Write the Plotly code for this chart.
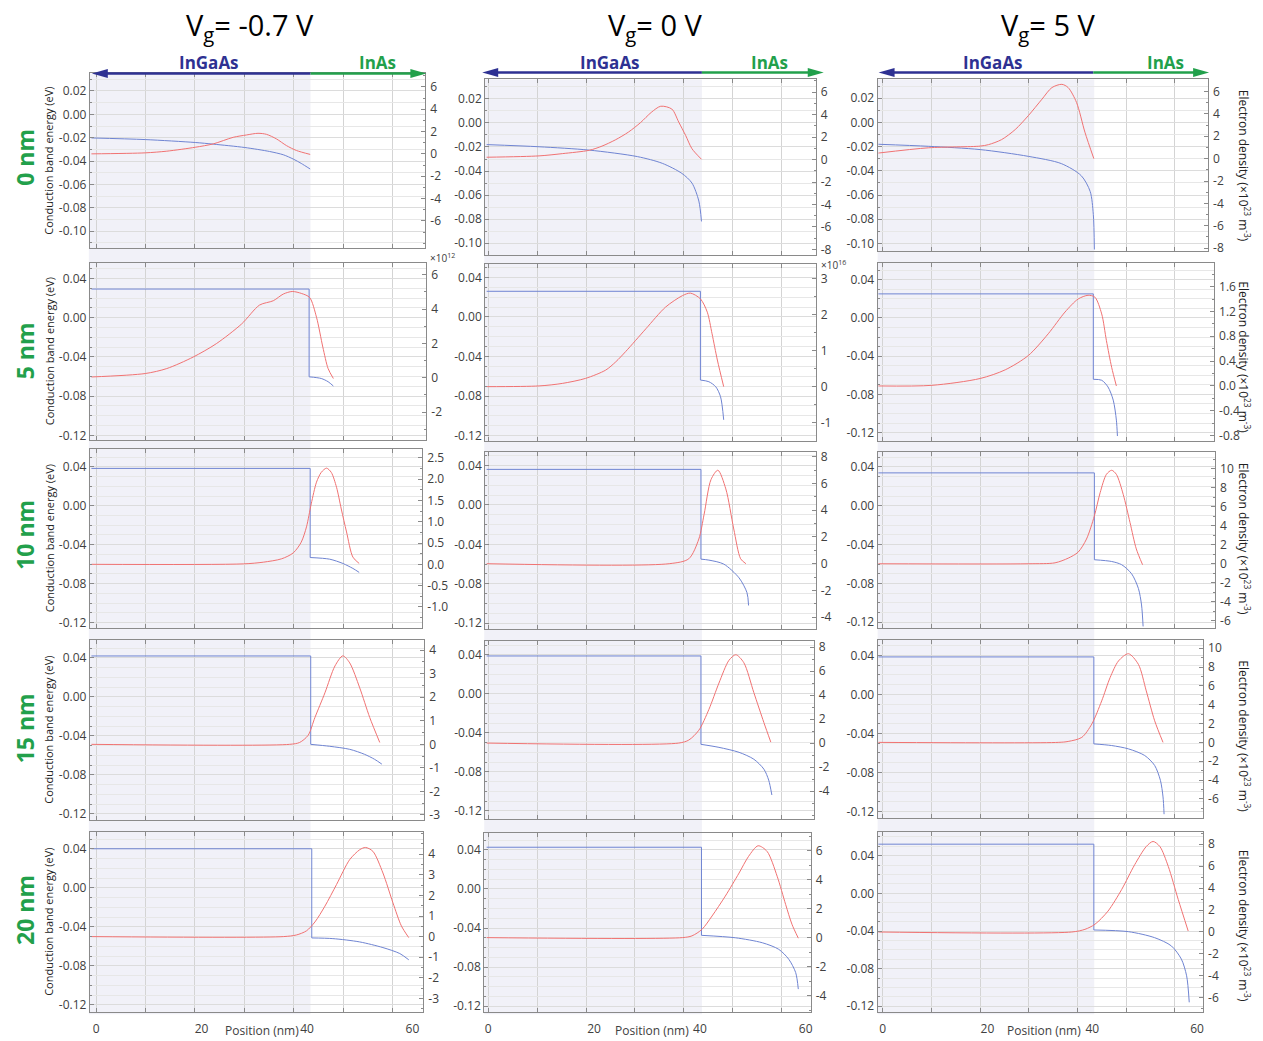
import plotly.graph_objects as go

W, H = 1263, 1041

BLUE = "#6f84d2"
RED = "#f07272"
NAVY = "#2e3192"
GREEN = "#22a04b"
AXIS = "#8a8a8a"
VGRID = "#d4d4d4"
HGRID = "#dcdcdc"
HGRID_MINOR = "#e7e7e7"
SHADE = "#f1f1f8"
TEXT = "#404040"
FONT = "Open Sans"

thickness_labels = ["0 nm", "5 nm", "10 nm", "15 nm", "20 nm"]
gate_titles = ["V<sub>g</sub>= -0.7 V", "V<sub>g</sub>= 0 V", "V<sub>g</sub>= 5 V"]
position_ticks = [0, 20, 40, 60]
energy_ticks_fine = [-0.10, -0.08, -0.06, -0.04, -0.02, 0.0, 0.02]
energy_ticks = [-0.12, -0.08, -0.04, 0.0, 0.04]

# ---------------- InAs 0 nm ----------------
cb_pos_t0_m07 = [-0.9, 9.3, 18.8, 22.2, 28.2, 32.9, 35.5, 37.4, 38.9, 40.6]
cb_ev_t0_m07 = [-0.0202, -0.0216, -0.0241, -0.0255, -0.0284, -0.0318, -0.0346, -0.0383, -0.042, -0.0468]
ne_pos_t0_m07 = [-0.9, 9.3, 13.4, 18.8, 22.2, 26.0, 28.5, 30.7, 32.3, 34.2, 36.1, 38.0, 40.6]
ne_val_t0_m07 = [0.0, 0.09, 0.24, 0.59, 0.89, 1.48, 1.69, 1.84, 1.75, 1.34, 0.74, 0.30, -0.05]
ne_ticks_t0_m07 = [-6, -4, -2, 0, 2, 4, 6]

cb_pos_t0_v0 = [-0.3, 9.6, 19.1, 28.2, 32.9, 36.6, 38.5, 39.8, 40.3]
cb_ev_t0_v0 = [-0.018, -0.0198, -0.0226, -0.028, -0.0336, -0.042, -0.050, -0.065, -0.082]
ne_pos_t0_v0 = [-0.3, 9.6, 14.0, 19.1, 21.5, 24.0, 26.5, 28.8, 30.8, 32.6, 34.7, 36.0, 37.3, 38.5, 40.3]
ne_val_t0_v0 = [0.21, 0.33, 0.53, 0.83, 1.2, 1.75, 2.45, 3.3, 4.2, 4.75, 4.5, 3.34, 2.16, 0.97, 0.03]
ne_ticks_t0_v0 = [-8, -6, -4, -2, 0, 2, 4, 6]

cb_pos_t0_v5 = [-0.8, 8.8, 18.6, 27.8, 34.1, 37.9, 39.6, 40.2, 40.4]
cb_ev_t0_v5 = [-0.018, -0.0197, -0.0224, -0.028, -0.034, -0.044, -0.057, -0.076, -0.105]
ne_pos_t0_v5 = [-0.8, 8.8, 18.6, 20.2, 22.7, 25.3, 27.8, 30.4, 32.3, 34.2, 35.4, 37.0, 38.6, 40.3]
ne_val_t0_v5 = [0.5, 0.97, 1.12, 1.25, 1.7, 2.6, 3.84, 5.31, 6.35, 6.64, 6.35, 5.02, 2.36, 0.0]
ne_ticks_t0_v5 = [-8, -6, -4, -2, 0, 2, 4, 6]

# ---------------- InAs 5 nm ----------------
cb_pos_t5_m07 = [-0.9, 40.4, 40.4, 42.7, 44.0, 45.0]
cb_ev_t5_m07 = [0.0293, 0.0293, -0.0603, -0.062, -0.0653, -0.0697]
ne_pos_t5_m07 = [-0.9, 9.3, 13.4, 18.4, 22.8, 27.6, 31.0, 33.6, 35.5, 37.2, 39.0, 40.5, 41.8, 43.0, 44.0, 45.0]
ne_val_t5_m07 = [0.05, 0.25, 0.54, 1.21, 1.99, 3.14, 4.24, 4.49, 4.88, 5.03, 4.91, 4.68, 3.53, 1.79, 0.54, -0.04]
ne_ticks_t5_m07 = [-2, 0, 2, 4, 6]

cb_pos_t5_v0 = [-0.3, 40.1, 40.1, 41.7, 43.0, 43.9, 44.5]
cb_ev_t5_v0 = [0.0259, 0.0259, -0.0638, -0.0655, -0.0706, -0.0806, -0.104]
ne_pos_t5_v0 = [-0.3, 9.6, 14.0, 18.4, 22.2, 24.1, 26.0, 29.8, 33.5, 36.7, 38.2, 40.1, 41.4, 42.3, 43.3, 44.5]
ne_val_t5_v0 = [0.0, 0.02, 0.09, 0.23, 0.46, 0.69, 0.98, 1.61, 2.21, 2.53, 2.6, 2.44, 2.07, 1.47, 0.74, 0.0]
ne_ticks_t5_v0 = [-1, 0, 1, 2, 3]

cb_pos_t5_v5 = [-0.8, 40.2, 40.2, 41.8, 43.0, 44.0, 44.6, 44.8]
cb_ev_t5_v5 = [0.0251, 0.0251, -0.0642, -0.0652, -0.0722, -0.086, -0.1069, -0.1235]
ne_pos_t5_v5 = [-0.8, 9.4, 18.6, 23.4, 27.8, 31.6, 34.8, 37.3, 39.2, 40.5, 41.8, 42.7, 43.7, 44.6]
ne_val_t5_v5 = [0.0, 0.01, 0.12, 0.26, 0.49, 0.84, 1.19, 1.4, 1.46, 1.43, 1.16, 0.73, 0.3, 0.0]
ne_ticks_t5_v5 = [-0.8, -0.4, 0.0, 0.4, 0.8, 1.2, 1.6]

# ---------------- InAs 10 nm ----------------
cb_pos_t10_m07 = [-0.9, 40.6, 40.6, 44.3, 46.8, 48.7, 49.9]
cb_ev_t10_m07 = [0.0384, 0.0384, -0.0532, -0.0549, -0.0593, -0.0644, -0.0685]
ne_pos_t10_m07 = [-0.9, 27.9, 31.7, 35.2, 37.4, 38.9, 39.9, 40.8, 41.8, 42.7, 43.7, 44.6, 45.6, 46.5, 47.5, 48.7, 49.9]
ne_val_t10_m07 = [0.0, 0.01, 0.05, 0.13, 0.27, 0.52, 0.88, 1.42, 1.93, 2.16, 2.26, 2.16, 1.81, 1.3, 0.76, 0.17, 0.02]
ne_ticks_t10_m07 = [-1.0, -0.5, 0.0, 0.5, 1.0, 1.5, 2.0, 2.5]

cb_pos_t10_v0 = [-0.3, 40.2, 40.2, 41.7, 44.5, 47.4, 48.9, 49.2]
cb_ev_t10_v0 = [0.036, 0.036, -0.055, -0.056, -0.06, -0.074, -0.089, -0.102]
ne_pos_t10_v0 = [-0.3, 34.2, 37.9, 39.8, 40.8, 42.1, 43.4, 44.9, 46.4, 47.7, 48.7]
ne_val_t10_v0 = [0.0, 0.0, 0.37, 1.85, 3.7, 6.3, 7.0, 5.6, 2.6, 0.37, 0.0]
ne_ticks_t10_v0 = [-4, -2, 0, 2, 4, 6, 8]

cb_pos_t10_v5 = [-0.8, 40.4, 40.4, 43.7, 45.6, 47.5, 48.8, 49.4, 49.7]
cb_ev_t10_v5 = [0.0339, 0.0339, -0.0556, -0.0574, -0.0607, -0.070, -0.0852, -0.1022, -0.1243]
ne_pos_t10_v5 = [-0.8, 27.8, 32.9, 35.4, 37.3, 38.9, 40.4, 41.5, 42.7, 43.7, 44.6, 45.9, 47.2, 48.4, 49.6]
ne_val_t10_v5 = [0.0, 0.0, 0.1, 0.59, 1.22, 2.6, 5.03, 7.47, 9.4, 9.83, 9.4, 7.3, 4.34, 1.56, -0.1]
ne_ticks_t10_v5 = [-6, -4, -2, 0, 2, 4, 6, 8, 10]

# ---------------- InAs 15 nm ----------------
cb_pos_t15_m07 = [-0.9, 40.7, 40.7, 44.3, 48.1, 50.9, 52.8, 54.2]
cb_ev_t15_m07 = [0.042, 0.042, -0.0487, -0.0507, -0.0538, -0.0589, -0.064, -0.069]
ne_pos_t15_m07 = [-0.9, 36.7, 38.6, 40.2, 41.5, 43.4, 45.3, 46.8, 48.1, 50.0, 51.9, 53.8]
ne_val_t15_m07 = [0.0, 0.0, 0.08, 0.38, 1.14, 2.19, 3.33, 3.76, 3.46, 2.4, 1.14, 0.08]
ne_ticks_t15_m07 = [-3, -2, -1, 0, 1, 2, 3, 4]

cb_pos_t15_v0 = [-0.3, 40.2, 40.2, 43.6, 47.4, 50.2, 52.1, 53.0, 53.6]
cb_ev_t15_v0 = [0.039, 0.039, -0.0517, -0.0548, -0.0599, -0.067, -0.0772, -0.0884, -0.1037]
ne_pos_t15_v0 = [-0.3, 36.0, 37.9, 39.8, 41.7, 43.6, 45.5, 46.8, 48.3, 50.2, 52.1, 53.4]
ne_val_t15_v0 = [0.0, 0.0, 0.25, 1.07, 2.8, 5.0, 6.9, 7.36, 6.7, 4.2, 1.7, 0.08]
ne_ticks_t15_v0 = [-4, -2, 0, 2, 4, 6, 8]

cb_pos_t15_v5 = [-0.8, 40.3, 40.3, 43.7, 46.9, 50.0, 51.9, 53.0, 53.5, 53.7]
cb_ev_t15_v5 = [0.0384, 0.0384, -0.0508, -0.0525, -0.0559, -0.0627, -0.0729, -0.0882, -0.1052, -0.1229]
ne_pos_t15_v5 = [-0.8, 33.5, 35.4, 38.0, 39.9, 41.8, 43.4, 45.0, 46.9, 48.8, 50.3, 51.9, 53.5]
ne_val_t15_v5 = [0.0, 0.0, 0.1, 0.53, 1.94, 4.41, 6.88, 8.65, 9.42, 8.29, 5.47, 2.3, 0.0]
ne_ticks_t15_v5 = [-6, -4, -2, 0, 2, 4, 6, 8, 10]

# ---------------- InAs 20 nm ----------------
cb_pos_t20_m07 = [-0.9, 40.9, 40.9, 44.9, 50.0, 54.4, 57.6, 59.3]
cb_ev_t20_m07 = [0.04, 0.04, -0.0514, -0.0521, -0.0555, -0.0613, -0.0674, -0.0738]
ne_pos_t20_m07 = [-0.9, 35.5, 38.0, 39.9, 41.5, 43.4, 45.6, 48.1, 50.0, 51.1, 52.5, 54.4, 56.3, 57.9, 59.3]
ne_val_t20_m07 = [0.0, 0.0, 0.08, 0.28, 0.71, 1.48, 2.53, 3.74, 4.22, 4.33, 4.14, 3.09, 1.64, 0.52, -0.05]
ne_ticks_t20_m07 = [-3, -2, -1, 0, 1, 2, 3, 4]

cb_pos_t20_v0 = [-0.3, 40.3, 40.3, 46.7, 51.8, 54.9, 56.8, 58.1, 58.6]
cb_ev_t20_v0 = [0.0426, 0.0426, -0.0475, -0.05, -0.0551, -0.0618, -0.072, -0.0856, -0.1025]
ne_pos_t20_v0 = [-0.3, 36.7, 38.5, 40.4, 42.3, 44.8, 47.4, 49.2, 51.0, 52.7, 54.6, 56.2, 57.4, 58.6]
ne_val_t20_v0 = [0.0, 0.0, 0.12, 0.57, 1.49, 2.86, 4.45, 5.6, 6.33, 5.94, 4.23, 2.29, 0.92, -0.04]
ne_ticks_t20_v0 = [-4, -2, 0, 2, 4, 6]

cb_pos_t20_v5 = [-0.8, 40.3, 40.3, 46.9, 51.9, 55.1, 57.0, 58.0, 58.5]
cb_ev_t20_v5 = [0.0523, 0.0523, -0.0389, -0.0407, -0.0471, -0.0559, -0.0699, -0.0876, -0.1158]
ne_pos_t20_v5 = [-0.8, 36.1, 38.6, 40.5, 43.0, 45.6, 48.1, 50.3, 51.6, 52.9, 54.5, 56.4, 58.3]
ne_val_t20_v5 = [0.0, 0.0, 0.24, 0.7, 1.9, 3.86, 6.13, 7.78, 8.24, 7.78, 5.97, 2.96, 0.09]
ne_ticks_t20_v5 = [-6, -4, -2, 0, 2, 4, 6, 8]

# ---------------- panel geometry ----------------
# horizontal calibration per column: pixel of x=0, pixels per nm, grid spacing (nm)
col_zero_px = [96.3, 489.0, 884.0]
col_px_per_nm = [5.28, 5.30, 5.25]
col_grid_step = [9.375, 9.245, 9.295]
# InGaAs shaded band per column: left, top, right, bottom (px)
shade_boxes = [(89, 71, 311, 1019), (485, 77, 703, 1019), (879, 77, 1096, 1019)]

# row, col, plot box (px), energy range, density range, density decimals, data
panels = [
    (0, 0, (90, 71, 426, 247), (-0.1145, 0.035), (-8.44, 7.2), 0,
     cb_pos_t0_m07, cb_ev_t0_m07, ne_pos_t0_m07, ne_val_t0_m07, ne_ticks_t0_m07),
    (0, 1, (486, 77, 817, 254), (-0.110, 0.0363), (-8.5, 7.14), 0,
     cb_pos_t0_v0, cb_ev_t0_v0, ne_pos_t0_v0, ne_val_t0_v0, ne_ticks_t0_v0),
    (0, 2, (879, 77, 1210, 250), (-0.1063, 0.0356), (-8.26, 7.08), 0,
     cb_pos_t0_v5, cb_ev_t0_v5, ne_pos_t0_v5, ne_val_t0_v5, ne_ticks_t0_v5),
    (1, 0, (90, 262, 427, 440), (-0.1244, 0.0559), (-3.6, 6.69), 0,
     cb_pos_t5_m07, cb_ev_t5_m07, ne_pos_t5_m07, ne_val_t5_m07, ne_ticks_t5_m07),
    (1, 1, (486, 263, 817, 441), (-0.125, 0.0535), (-1.5, 3.41), 0,
     cb_pos_t5_v0, cb_ev_t5_v0, ne_pos_t5_v0, ne_val_t5_v0, ne_ticks_t5_v0),
    (1, 2, (879, 262, 1216, 441), (-0.1283, 0.0574), (-0.88, 1.98), 1,
     cb_pos_t5_v5, cb_ev_t5_v5, ne_pos_t5_v5, ne_val_t5_v5, ne_ticks_t5_v5),
    (2, 0, (90, 449, 423, 630), (-0.1258, 0.0588), (-1.5, 2.72), 1,
     cb_pos_t10_m07, cb_ev_t10_m07, ne_pos_t10_m07, ne_val_t10_m07, ne_ticks_t10_m07),
    (2, 1, (486, 452, 817, 631), (-0.126, 0.0541), (-4.9, 8.4), 0,
     cb_pos_t10_v0, cb_ev_t10_v0, ne_pos_t10_v0, ne_val_t10_v0, ne_ticks_t10_v0),
    (2, 2, (879, 452, 1217, 630), (-0.1261, 0.0559), (-6.77, 11.8), 0,
     cb_pos_t10_v5, cb_ev_t10_v5, ne_pos_t10_v5, ne_val_t10_v5, ne_ticks_t10_v5),
    (3, 0, (90, 642, 425, 823), (-0.126, 0.0583), (-3.2, 4.43), 0,
     cb_pos_t15_m07, cb_ev_t15_m07, ne_pos_t15_m07, ne_val_t15_m07, ne_ticks_t15_m07),
    (3, 1, (486, 643, 815, 822), (-0.128, 0.0543), (-6.3, 8.5), 0,
     cb_pos_t15_v0, cb_ev_t15_v0, ne_pos_t15_v0, ne_val_t15_v0, ne_ticks_t15_v0),
    (3, 2, (879, 642, 1205, 821), (-0.1265, 0.0557), (-8.0, 10.87), 0,
     cb_pos_t15_v5, cb_ev_t15_v5, ne_pos_t15_v5, ne_val_t15_v5, ne_ticks_t15_v5),
    (4, 0, (90, 835, 424, 1017), (-0.1275, 0.0576), (-3.67, 5.1), 0,
     cb_pos_t20_m07, cb_ev_t20_m07, ne_pos_t20_m07, ne_val_t20_m07, ne_ticks_t20_m07),
    (4, 1, (485, 836, 812, 1017), (-0.1261, 0.0576), (-5.14, 7.24), 0,
     cb_pos_t20_v0, cb_ev_t20_v0, ne_pos_t20_v0, ne_val_t20_v0, ne_ticks_t20_v0),
    (4, 2, (879, 835, 1205, 1017), (-0.1263, 0.0657), (-7.3, 9.14), 0,
     cb_pos_t20_v5, cb_ev_t20_v5, ne_pos_t20_v5, ne_val_t20_v5, ne_ticks_t20_v5),
]

# label anchor positions (px)
row_label_y = [155, 350, 536, 731, 914]
density_title_y = [164, 357, 540, 739, 930]
title_x = [250, 657, 1050]
position_title_x = [262, 653, 1046]
# arrow geometry per column: y, left tip, material boundary, right tip
arrow_geom = [(71, 92, 311, 427), (70, 483, 703, 825), (70, 880, 1095, 1211)]
ingaas_label_x = [209, 611, 995]
inas_label_x = [378, 771, 1167]


def px(x):
    return x / W


def py(y):
    return 1 - y / H


def axname(kind, n):
    return f"{kind}axis" if n == 1 else f"{kind}axis{n}"


def axref(kind, n):
    return kind if n == 1 else f"{kind}{n}"


fig = go.Figure()
layout = dict(
    width=W, height=H, autosize=False,
    margin=dict(l=0, r=0, t=0, b=0),
    paper_bgcolor="white", plot_bgcolor="rgba(0,0,0,0)",
    showlegend=False,
    font=dict(family=FONT, color=TEXT, size=12),
)

for k, (r, c, box, erange, nrange, ndec, cbx, cby, nex, ney, nticks) in enumerate(panels):
    xi, yl, yr = k + 1, 2 * k + 1, 2 * k + 2
    L, T, R, B = box
    x0, s = col_zero_px[c], col_px_per_nm[c]

    layout[axname("x", xi)] = dict(
        domain=[px(L), px(R)], anchor=axref("y", yl),
        range=[(L - x0) / s, (R - x0) / s],
        showline=True, linecolor=AXIS, linewidth=1, mirror="ticks",
        tickmode="array", tickvals=position_ticks,
        ticktext=[str(v) for v in position_ticks],
        ticks="", showticklabels=(r == 4), showgrid=False, zeroline=False,
        ticklabelstandoff=5,
        tickfont=dict(size=12, color=TEXT),
        minor=dict(tickmode="linear", tick0=0, dtick=col_grid_step[c], ticks="inside",
                   ticklen=4, tickcolor=AXIS, showgrid=True, gridcolor=VGRID, gridwidth=1),
    )
    eticks = energy_ticks_fine if r == 0 else energy_ticks
    layout[axname("y", yl)] = dict(
        domain=[py(B), py(T)], anchor=axref("x", xi), range=list(erange),
        showline=True, linecolor=AXIS, linewidth=1, mirror=True,
        tickmode="array", tickvals=eticks, ticktext=[f"{v:.2f}" for v in eticks],
        ticks="inside", ticklen=4, tickcolor=AXIS,
        showgrid=True, gridcolor=HGRID, gridwidth=1, zeroline=False,
        tickfont=dict(size=12, color=TEXT),
        minor=dict(tickmode="linear", tick0=0, dtick=0.01, ticks="inside", ticklen=2,
                   tickcolor=AXIS, showgrid=True, gridcolor=HGRID_MINOR, gridwidth=1),
    )
    step = nticks[1] - nticks[0]
    layout[axname("y", yr)] = dict(
        overlaying=axref("y", yl), anchor=axref("x", xi), side="right", range=list(nrange),
        showline=False, showgrid=False, zeroline=False,
        tickmode="array", tickvals=nticks, ticktext=[f"{v:.{ndec}f}" for v in nticks],
        ticks="inside", ticklen=4, tickcolor=AXIS, ticklabelstandoff=4,
        tickfont=dict(size=12, color=TEXT),
        minor=dict(tickmode="linear", tick0=0, dtick=step / 2, ticks="inside", ticklen=2,
                   tickcolor=AXIS),
    )

    xa, ya, yb = axref("x", xi), axref("y", yl), axref("y", yr)
    # conduction band: flat barrier + step drawn straight, curved tail smoothed
    step_idx = next((i for i in range(1, len(cbx)) if cbx[i] == cbx[i - 1]), None)
    if step_idx is None:
        fig.add_trace(go.Scatter(x=cbx, y=cby, mode="lines", xaxis=xa, yaxis=ya,
                                 line=dict(color=BLUE, width=1, shape="spline", smoothing=0.8),
                                 hoverinfo="skip"))
    else:
        fig.add_trace(go.Scatter(x=cbx[:step_idx + 1], y=cby[:step_idx + 1], mode="lines",
                                 xaxis=xa, yaxis=ya, line=dict(color=BLUE, width=1),
                                 hoverinfo="skip"))
        fig.add_trace(go.Scatter(x=cbx[step_idx:], y=cby[step_idx:], mode="lines",
                                 xaxis=xa, yaxis=ya,
                                 line=dict(color=BLUE, width=1, shape="spline", smoothing=0.8),
                                 hoverinfo="skip"))
    # electron density on the right axis
    fig.add_trace(go.Scatter(x=nex, y=ney, mode="lines", xaxis=xa, yaxis=yb,
                             line=dict(color=RED, width=1, shape="spline", smoothing=0.8),
                             hoverinfo="skip"))

shapes = []
for (L, T, R, B) in shade_boxes:
    shapes.append(dict(type="rect", xref="paper", yref="paper", layer="below",
                       x0=px(L), x1=px(R), y0=py(B), y1=py(T),
                       fillcolor=SHADE, line=dict(width=0)))
for (y, lt, mid, rt) in arrow_geom:
    shapes.append(dict(type="line", xref="paper", yref="paper", x0=px(mid), x1=px(lt + 12),
                       y0=py(y), y1=py(y), line=dict(color=NAVY, width=2.5)))
    shapes.append(dict(type="line", xref="paper", yref="paper", x0=px(mid), x1=px(rt - 12),
                       y0=py(y), y1=py(y), line=dict(color=GREEN, width=2.5)))
    shapes.append(dict(type="path", xref="paper", yref="paper",
                       path=f"M {px(lt)},{py(y)} L {px(lt + 16)},{py(y - 4.5)} L {px(lt + 16)},{py(y + 4.5)} Z",
                       fillcolor=NAVY, line=dict(width=0)))
    shapes.append(dict(type="path", xref="paper", yref="paper",
                       path=f"M {px(rt)},{py(y)} L {px(rt - 16)},{py(y - 4.5)} L {px(rt - 16)},{py(y + 4.5)} Z",
                       fillcolor=GREEN, line=dict(width=0)))

ann = []
for c in range(3):
    ann.append(dict(text=gate_titles[c], x=px(title_x[c]), y=py(24), xref="paper", yref="paper",
                    showarrow=False, xanchor="center", yanchor="middle",
                    font=dict(family=FONT, size=29, color="black")))
    ann.append(dict(text="<b>InGaAs</b>", x=px(ingaas_label_x[c]), y=py(60), xref="paper", yref="paper",
                    showarrow=False, xanchor="center", yanchor="middle",
                    font=dict(family=FONT, size=17, color=NAVY)))
    ann.append(dict(text="<b>InAs</b>", x=px(inas_label_x[c]), y=py(60), xref="paper", yref="paper",
                    showarrow=False, xanchor="center", yanchor="middle",
                    font=dict(family=FONT, size=17, color=GREEN)))
    ann.append(dict(text="Position (nm)", x=px(position_title_x[c]), y=py(1035), xref="paper", yref="paper",
                    showarrow=False, xanchor="center", yanchor="middle",
                    font=dict(family=FONT, size=12, color=TEXT)))

for r in range(5):
    ann.append(dict(text=f"<b>{thickness_labels[r]}</b>", x=px(25), y=py(row_label_y[r]),
                    xref="paper", yref="paper", showarrow=False, textangle=-90,
                    xanchor="center", yanchor="middle",
                    font=dict(family=FONT, size=23, color=GREEN)))
    L, T, R, B = panels[3 * r][2]
    ann.append(dict(text="Conduction band energy (eV)", x=px(49), y=py((T + B) / 2),
                    xref="paper", yref="paper", showarrow=False, textangle=-90,
                    xanchor="center", yanchor="middle",
                    font=dict(family=FONT, size=11, color="#222222")))
    ann.append(dict(text="Electron density (×10<sup>23</sup> m<sup>-3</sup>)", x=px(1246),
                    y=py(density_title_y[r]), xref="paper", yref="paper", showarrow=False,
                    textangle=90, xanchor="center", yanchor="middle",
                    font=dict(family=FONT, size=12, color="#222222")))

ann.append(dict(text="×10<sup>12</sup>", x=px(429), y=py(257), xref="paper", yref="paper",
                showarrow=False, xanchor="left", yanchor="middle",
                font=dict(family=FONT, size=10, color=TEXT)))
ann.append(dict(text="×10<sup>16</sup>", x=px(820), y=py(264), xref="paper", yref="paper",
                showarrow=False, xanchor="left", yanchor="middle",
                font=dict(family=FONT, size=10, color=TEXT)))

layout["shapes"] = shapes
layout["annotations"] = ann
fig.update_layout(**layout)
fig.write_html("out.html")
